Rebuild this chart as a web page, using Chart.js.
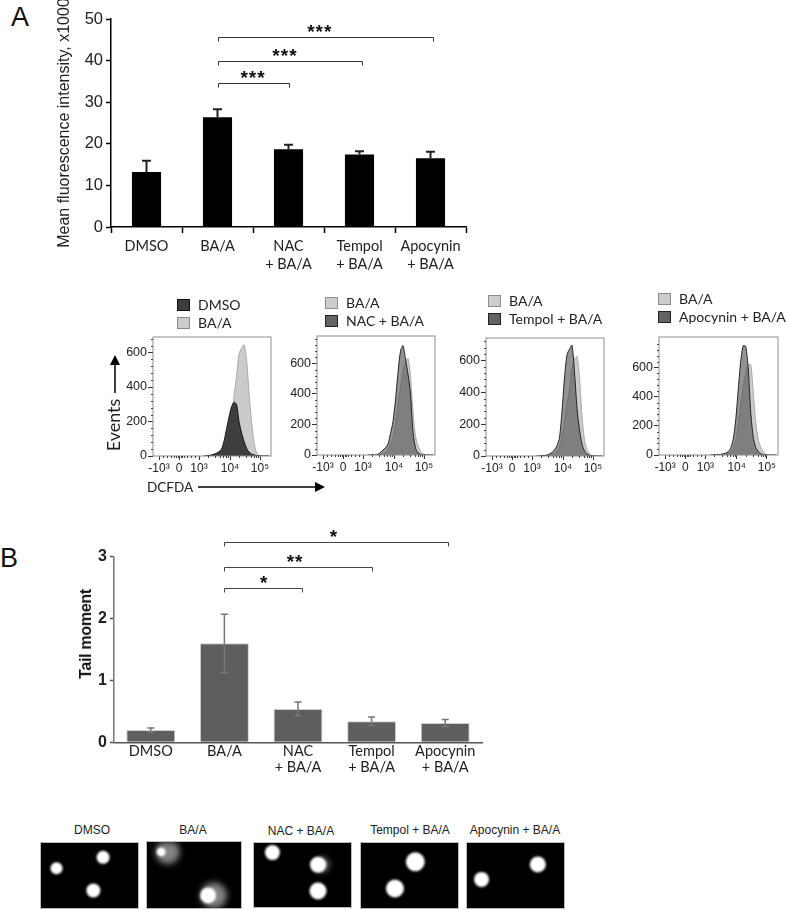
<!DOCTYPE html>
<html>
<head>
<meta charset="utf-8">
<title>Fluorescence and tail moment</title>
<script src="https://cdn.jsdelivr.net/npm/chart.js@4"></script>
<style>
  html, body { margin: 0; padding: 0; background: #fff; }
  #page { position: relative; width: 787px; height: 910px; overflow: hidden; font-family: "Liberation Sans", Arial, sans-serif; color: #111; }
  #page canvas { position: absolute; }
  .txt { position: absolute; white-space: nowrap; line-height: 1; }
  .lato { font-family: Lato, "Open Sans", sans-serif; color: #222; }
  .swatch { position: absolute; width: 11px; height: 10px; border: 1px solid; }
  .photo { position: absolute; background: #000; outline: 1px solid #bbb; overflow: hidden; }
  .photo canvas { filter: blur(0.8px); }
  .photo canvas.glow { filter: blur(3px); }
</style>
</head>
<body>
<div id="page"></div>
<script>
// Bar panels
const barCategories = ["DMSO", "BA/A", ["NAC", "+ BA/A"], ["Tempol", "+ BA/A"], ["Apocynin", "+ BA/A"]]

const intensityValues = [13.2, 26.4, 18.7, 17.4, 16.5]
const intensityErrors = [2.7, 1.9, 1.1, 0.8, 1.6]
const intensityTicks = [0, 10, 20, 30, 40, 50]
const intensityBracketEnds = [2, 3.03, 4.04]
const intensityBracketLevels = [34.6, 39.9, 45.7]
const intensityBracketStars = ["***", "***", "***"]
const intensityStarPlaces = [1.5, 1.95, 2.44]

const tailValues = [0.2, 1.6, 0.54, 0.34, 0.31]
const tailErrors = [0.03, 0.47, 0.11, 0.07, 0.06]
const tailTicks = [0, 1, 2, 3]
const tailBracketEnds = [2.06, 3.01, 4.04]
const tailBracketLevels = [2.5, 2.84, 3.24]
const tailBracketStars = ["*", "**", "*"]
const tailStarPlaces = [1.54, 1.96, 2.49]

// Histogram panels, x is in display units of the biexponential axis
const histX = [2.5, 3, 3.5, 4, 4.25, 4.5, 4.75, 5, 5.25, 5.5, 5.75, 6, 6.25, 6.5, 6.75, 7, 7.25, 7.5, 7.75, 8, 8.5, 9]
const histXTicks = [-2, 0, 2, 5.1, 8.1]
const histXLabels = ["-10³", "0", "10³", "10⁴", "10⁵"]
const histXMinor = [-1.6, -1.2, -0.8, -0.5, -0.3, -0.15, 0.15, 0.3, 0.5, 0.8, 1.2, 1.6, 2.9, 3.6, 4.1, 4.4, 4.7, 4.9, 6, 6.7, 7.2, 7.5, 7.7, 7.9]
const histYTicks = [0, 200, 400, 600]
const histYMinor = [40, 80, 120, 160, 240, 280, 320, 360, 440, 480, 520, 560, 640, 680, 720, 760]

const dmsoCounts = [0, 3, 10, 25, 40, 85, 155, 225, 285, 312, 300, 200, 135, 85, 45, 22, 12, 6, 3, 1, 0, 0]
const baaCounts1 = [0, 1, 4, 10, 18, 30, 60, 125, 220, 345, 460, 590, 625, 645, 560, 370, 200, 80, 20, 5, 0, 0]
const baaCounts2 = [0, 0, 2, 8, 16, 35, 70, 115, 210, 330, 440, 550, 610, 635, 520, 280, 125, 60, 24, 7, 1, 0]
const nacCounts = [0, 1, 5, 32, 48, 72, 140, 220, 360, 540, 680, 717, 630, 530, 400, 150, 45, 14, 5, 1, 0, 0]
const baaCounts3 = [0, 1, 3, 8, 15, 28, 60, 120, 210, 330, 420, 560, 605, 625, 490, 255, 100, 40, 13, 3, 0, 0]
const tempolCounts = [0, 2, 6, 22, 38, 65, 115, 280, 490, 635, 670, 695, 525, 300, 165, 75, 32, 13, 5, 1, 0, 0]
const baaCounts4 = [0, 1, 2, 6, 11, 20, 40, 95, 200, 340, 470, 560, 620, 620, 430, 220, 105, 50, 22, 5, 0, 0]
const apoCounts = [0, 1, 4, 12, 22, 45, 105, 235, 440, 640, 750, 745, 590, 290, 120, 50, 23, 9, 3, 1, 0, 0]

// Comet photos, x and y are percent of the frame
const photoTitles = ["DMSO", "BA/A", "NAC + BA/A", "Tempol + BA/A", "Apocynin + BA/A"]
const headX = [[16, 64, 54], [15, 65], [19, 66, 66], [56, 35], [73, 15]]
const headY = [[39, 22, 73], [15, 81], [15, 34, 75], [29, 70], [33, 56]]
const headR = [[6, 6.5, 7], [4.5, 8], [7.5, 8, 8.5], [9.5, 9], [8, 7.5]]
const tailX = [[], [22, 71], [70], [], []]
const tailY = [[], [15, 81], [34], [], []]
const tailR = [[], [12, 13], [7], [], []]

const barFont = "Lato"
const numFont = "'Liberation Sans'"
const page = document.getElementById("page")

Chart.defaults.animation = false
Chart.defaults.responsive = false
Chart.defaults.plugins.legend.display = false
Chart.defaults.plugins.tooltip.enabled = false

// Error bars on the bars, read from options.plugins.errorBars
const errorBarPlugin = {
  id: "errorBars",
  afterDatasetsDraw(chart, args, opts) {
    const { ctx, scales } = chart
    ctx.save()
    ctx.strokeStyle = opts.color
    ctx.lineWidth = opts.lineWidth
    chart.data.datasets[0].data.forEach((value, i) => {
      const x = scales.x.getPixelForValue(i)
      const top = scales.y.getPixelForValue(value + opts.values[i])
      const bottom = scales.y.getPixelForValue(opts.both ? value - opts.values[i] : value)
      ctx.beginPath()
      ctx.moveTo(x, bottom)
      ctx.lineTo(x, top)
      ctx.moveTo(x - opts.cap, top)
      ctx.lineTo(x + opts.cap, top)
      if (opts.both) {
        ctx.moveTo(x - opts.cap, bottom)
        ctx.lineTo(x + opts.cap, bottom)
      }
      ctx.stroke()
    })
    ctx.restore()
  },
}

// Significance brackets from BA/A to the treatment bars
const bracketPlugin = {
  id: "brackets",
  afterDraw(chart, args, opts) {
    const { ctx, scales } = chart
    ctx.save()
    ctx.strokeStyle = opts.color
    ctx.lineWidth = 1
    ctx.fillStyle = "#111"
    ctx.textAlign = "center"
    ctx.textBaseline = "middle"
    ctx.font = "bold 19px " + numFont
    ctx.letterSpacing = "1px"
    opts.ends.forEach((end, i) => {
      const x1 = Math.round(scales.x.getPixelForValue(1)) + 0.5
      const x2 = Math.round(scales.x.getPixelForValue(end)) + 0.5
      const y = Math.round(scales.y.getPixelForValue(opts.levels[i])) + 0.5
      ctx.beginPath()
      ctx.moveTo(x1, y + 4)
      ctx.lineTo(x1, y)
      ctx.lineTo(x2, y)
      ctx.lineTo(x2, y + 4)
      ctx.stroke()
      ctx.fillText(opts.stars[i], scales.x.getPixelForValue(opts.places[i]), y - 4.5)
    })
    ctx.restore()
  },
}

// Frame and small ticks of the histogram plots
const framePlugin = {
  id: "histFrame",
  afterDraw(chart, args, opts) {
    const { ctx, chartArea: a, scales } = chart
    ctx.save()
    ctx.strokeStyle = "#8c8c8c"
    ctx.lineWidth = 1
    ctx.strokeRect(a.left, a.top, a.right - a.left, a.bottom - a.top)
    ctx.strokeStyle = "#444"
    ctx.beginPath()
    histXMinor.forEach((v) => {
      const x = Math.round(scales.x.getPixelForValue(v)) + 0.5
      ctx.moveTo(x, a.bottom)
      ctx.lineTo(x, a.bottom + 2)
    })
    histYMinor.filter((v) => v < opts.max).forEach((v) => {
      const y = Math.round(scales.y.getPixelForValue(v)) + 0.5
      ctx.moveTo(a.left, y)
      ctx.lineTo(a.left - 2, y)
    })
    ctx.stroke()
    ctx.restore()
  },
}

function addCanvas(left, top, width, height, parent) {
  const canvas = document.createElement("canvas")
  canvas.width = width
  canvas.height = height
  canvas.style.left = left + "px"
  canvas.style.top = top + "px"
  ;(parent || page).appendChild(canvas)
  return canvas.getContext("2d")
}

function addText(text, left, top, css, cls) {
  const el = document.createElement("div")
  el.className = "txt " + (cls || "")
  el.textContent = text
  el.style.left = left + "px"
  el.style.top = top + "px"
  el.style.cssText += css || ""
  page.appendChild(el)
  return el
}

// Fluorescence bar chart (panel A)
new Chart(addCanvas(55, 0, 425, 280), {
  type: "bar",
  data: {
    labels: barCategories,
    datasets: [{ data: intensityValues, backgroundColor: "#000", barPercentage: 0.41, categoryPercentage: 1 }],
  },
  options: {
    layout: { padding: { top: 19, right: 14 } },
    plugins: {
      errorBars: { values: intensityErrors, color: "#222", lineWidth: 2, cap: 4.5, both: false },
      brackets: { ends: intensityBracketEnds, levels: intensityBracketLevels, stars: intensityBracketStars, places: intensityStarPlaces, color: "#333" },
    },
    scales: {
      x: {
        afterFit: (s) => { s.height = 53 },
        grid: { drawOnChartArea: false, tickLength: 6, tickColor: "#000", tickWidth: 1.5 },
        border: { color: "#000", width: 1.5 },
        ticks: { font: { family: barFont, size: 14.5 }, color: "#222", padding: 5, maxRotation: 0, autoSkip: false },
      },
      y: {
        min: 0,
        max: 50,
        afterFit: (s) => { s.width = 56 },
        afterBuildTicks: (s) => { s.ticks = intensityTicks.map((v) => ({ value: v })) },
        grid: { drawOnChartArea: false, tickLength: 5, tickColor: "#000", tickWidth: 1.5 },
        border: { color: "#000", width: 1.5 },
        title: { display: true, text: "Mean fluorescence intensity, x1000", font: { family: numFont, size: 16 }, color: "#222", padding: 0 },
        ticks: { font: { family: numFont, size: 16.5 }, color: "#222", padding: 3 },
      },
    },
  },
  plugins: [errorBarPlugin, bracketPlugin],
})

// Tail moment bar chart (panel B)
new Chart(addCanvas(60, 520, 440, 270), {
  type: "bar",
  data: {
    labels: barCategories,
    datasets: [{ data: tailValues, backgroundColor: "#5e5e5e", borderColor: "#d0d0d0", borderWidth: 1, barPercentage: 0.665, categoryPercentage: 1 }],
  },
  options: {
    layout: { padding: { top: 36.7, right: 18 } },
    plugins: {
      errorBars: { values: tailErrors, color: "#777", lineWidth: 1.5, cap: 3.5, both: true },
      brackets: { ends: tailBracketEnds, levels: tailBracketLevels, stars: tailBracketStars, places: tailStarPlaces, color: "#444" },
    },
    scales: {
      x: {
        afterFit: (s) => { s.height = 47.7 },
        grid: { display: false, drawTicks: false },
        border: { color: "#555", width: 1.5 },
        ticks: { font: { family: barFont, size: 14.5, lineHeight: 1.1 }, color: "#222", padding: 1, maxRotation: 0, autoSkip: false },
      },
      y: {
        min: 0,
        max: 3,
        afterFit: (s) => { s.width = 54 },
        afterBuildTicks: (s) => { s.ticks = tailTicks.map((v) => ({ value: v })) },
        grid: { drawOnChartArea: false, tickLength: 4, tickColor: "#555", tickWidth: 1.5 },
        border: { color: "#777", width: 1.5 },
        ticks: { font: { family: numFont, size: 16, weight: "bold" }, color: "#222", padding: 3 },
      },
    },
  },
  plugins: [errorBarPlugin, bracketPlugin],
})

// One flow cytometry histogram with its html legend
function addHistogram(box, yMax, datasets, legendX, legendY) {
  const left = box.left - 46
  const top = box.top - 10
  const width = box.right - left + 12
  const height = box.bottom - top + 20
  new Chart(addCanvas(left, top, width, height), {
    type: "line",
    data: {
      datasets: datasets.map((d) => ({
        label: d.label,
        data: histX.map((x, i) => ({ x: x, y: d.counts[i] })),
        order: d.order,
        fill: "origin",
        backgroundColor: d.fill,
        borderColor: d.line,
        borderWidth: 1,
        pointRadius: 0,
        tension: 0.25,
      })),
    },
    options: {
      layout: { padding: { top: box.top - top, right: width - (box.right - left) } },
      plugins: { histFrame: { max: yMax } },
      scales: {
        x: {
          type: "linear",
          min: -2.6,
          max: 9.2,
          afterFit: (s) => { s.height = height - (box.bottom - top) },
          afterBuildTicks: (s) => { s.ticks = histXTicks.map((v) => ({ value: v })) },
          grid: { drawOnChartArea: false, tickLength: 4, tickColor: "#333" },
          border: { display: false },
          ticks: {
            autoSkip: false,
            maxRotation: 0,
            padding: 1,
            font: { family: numFont, size: 12 },
            color: "#222",
            callback: (v) => histXLabels[histXTicks.indexOf(v)],
          },
        },
        y: {
          min: 0,
          max: yMax,
          afterFit: (s) => { s.width = box.left - left },
          afterBuildTicks: (s) => { s.ticks = histYTicks.map((v) => ({ value: v })) },
          grid: { drawOnChartArea: false, tickLength: 5, tickColor: "#333" },
          border: { display: false },
          ticks: { font: { family: numFont, size: 12.5 }, color: "#222", padding: 1 },
        },
      },
    },
    plugins: [framePlugin],
  })

  datasets.forEach((d, i) => {
    const y = legendY + i * 18
    const sw = document.createElement("div")
    sw.className = "swatch"
    sw.style.left = legendX + "px"
    sw.style.top = y + "px"
    sw.style.background = d.swatch
    sw.style.borderColor = d.swatchLine
    page.appendChild(sw)
    addText(d.label, legendX + 21, y - 1, "font-size:14px", "lato")
  })
}

const darkFill = { fill: "rgba(80,80,80,0.62)", line: "#222", swatch: "#636363", swatchLine: "#222" }
const lightFill = { fill: "#cbcbcb", line: "#a8a8a8", swatch: "#cdcdcd", swatchLine: "#8c8c8c" }

addHistogram({ left: 153.3, right: 271.7, top: 337.3, bottom: 456.7 }, 690, [
  { label: "DMSO", counts: dmsoCounts, order: 0, fill: "rgba(50,50,50,0.92)", line: "#111", swatch: "#3c3c3c", swatchLine: "#111" },
  { label: "BA/A", counts: baaCounts1, order: 1, ...lightFill },
], 177, 299)

addHistogram({ left: 317, right: 435.3, top: 335.7, bottom: 455 }, 780, [
  { label: "BA/A", counts: baaCounts2, order: 1, ...lightFill },
  { label: "NAC + BA/A", counts: nacCounts, order: 0, ...darkFill },
], 325, 297)

addHistogram({ left: 486.3, right: 605.3, top: 338.3, bottom: 457 }, 740, [
  { label: "BA/A", counts: baaCounts3, order: 1, ...lightFill },
  { label: "Tempol + BA/A", counts: tempolCounts, order: 0, ...darkFill },
], 488, 295)

addHistogram({ left: 659.3, right: 778.7, top: 336.7, bottom: 455.3 }, 810, [
  { label: "BA/A", counts: baaCounts4, order: 1, ...lightFill },
  { label: "Apocynin + BA/A", counts: apoCounts, order: 0, ...darkFill },
], 658, 293)

// Comet photos are small bubble charts on a black frame
const photoFrames = [[41, 843, 97, 65], [147, 842, 94, 66], [254, 843, 97, 64], [361, 843, 97, 65], [467, 843, 97, 65]]
const photoTitleX = [92, 193, 301, 410, 515]

function addBubbles(frame, f, xs, ys, rs, color) {
  const ctx = addCanvas(0, 0, f[2], f[3], frame)
  new Chart(ctx, {
    type: "bubble",
    data: { datasets: [{ data: xs.map((x, j) => ({ x: x, y: ys[j], r: rs[j] })), backgroundColor: color, borderWidth: 0 }] },
    options: {
      layout: { autoPadding: false, padding: 0 },
      scales: {
        x: { display: false, min: 0, max: 100 },
        y: { display: false, min: 0, max: 100, reverse: true },
      },
    },
  })
  return ctx.canvas
}

photoFrames.forEach((f, i) => {
  const frame = document.createElement("div")
  frame.className = "photo"
  frame.style.cssText = `left:${f[0]}px;top:${f[1]}px;width:${f[2]}px;height:${f[3]}px`
  page.appendChild(frame)
  if (tailX[i].length) {
    addBubbles(frame, f, tailX[i], tailY[i], tailR[i], "rgba(165,165,165,0.8)").className = "glow"
  }
  addBubbles(frame, f, headX[i], headY[i], headR[i], "#fff")
  const title = addText(photoTitles[i], photoTitleX[i], 824 + (i === 2 ? 1 : 0), "font-size:12px;color:#222")
  title.style.transform = "translateX(-50%)"
})

// Panel letters, axis captions and arrows
addText("A", 11, 4, "font-size:27px;font-weight:normal")
addText("B", 0, 545, "font-size:27px;font-weight:normal")
addText("Tail moment", 86, 634, "font-size:16px;letter-spacing:-0.3px;font-weight:bold;transform:translate(-50%,-50%) rotate(-90deg)")
addText("Events", 113, 425, "font-size:18px;transform:translate(-50%,-50%) rotate(-90deg)", "lato")
addText("DCFDA", 147, 481, "font-size:13.5px", "lato")

page.insertAdjacentHTML("beforeend", `<svg width="787" height="910" style="position:absolute;left:0;top:0;pointer-events:none">
  <path d="M115 393V362" stroke="#000" stroke-width="1.5"/><path d="M115 355l-5 10h10z" fill="#000"/>
  <path d="M198 487H316" stroke="#000" stroke-width="1.5"/><path d="M325 487l-10-5v10z" fill="#000"/>
</svg>`)
</script>
</body>
</html>
